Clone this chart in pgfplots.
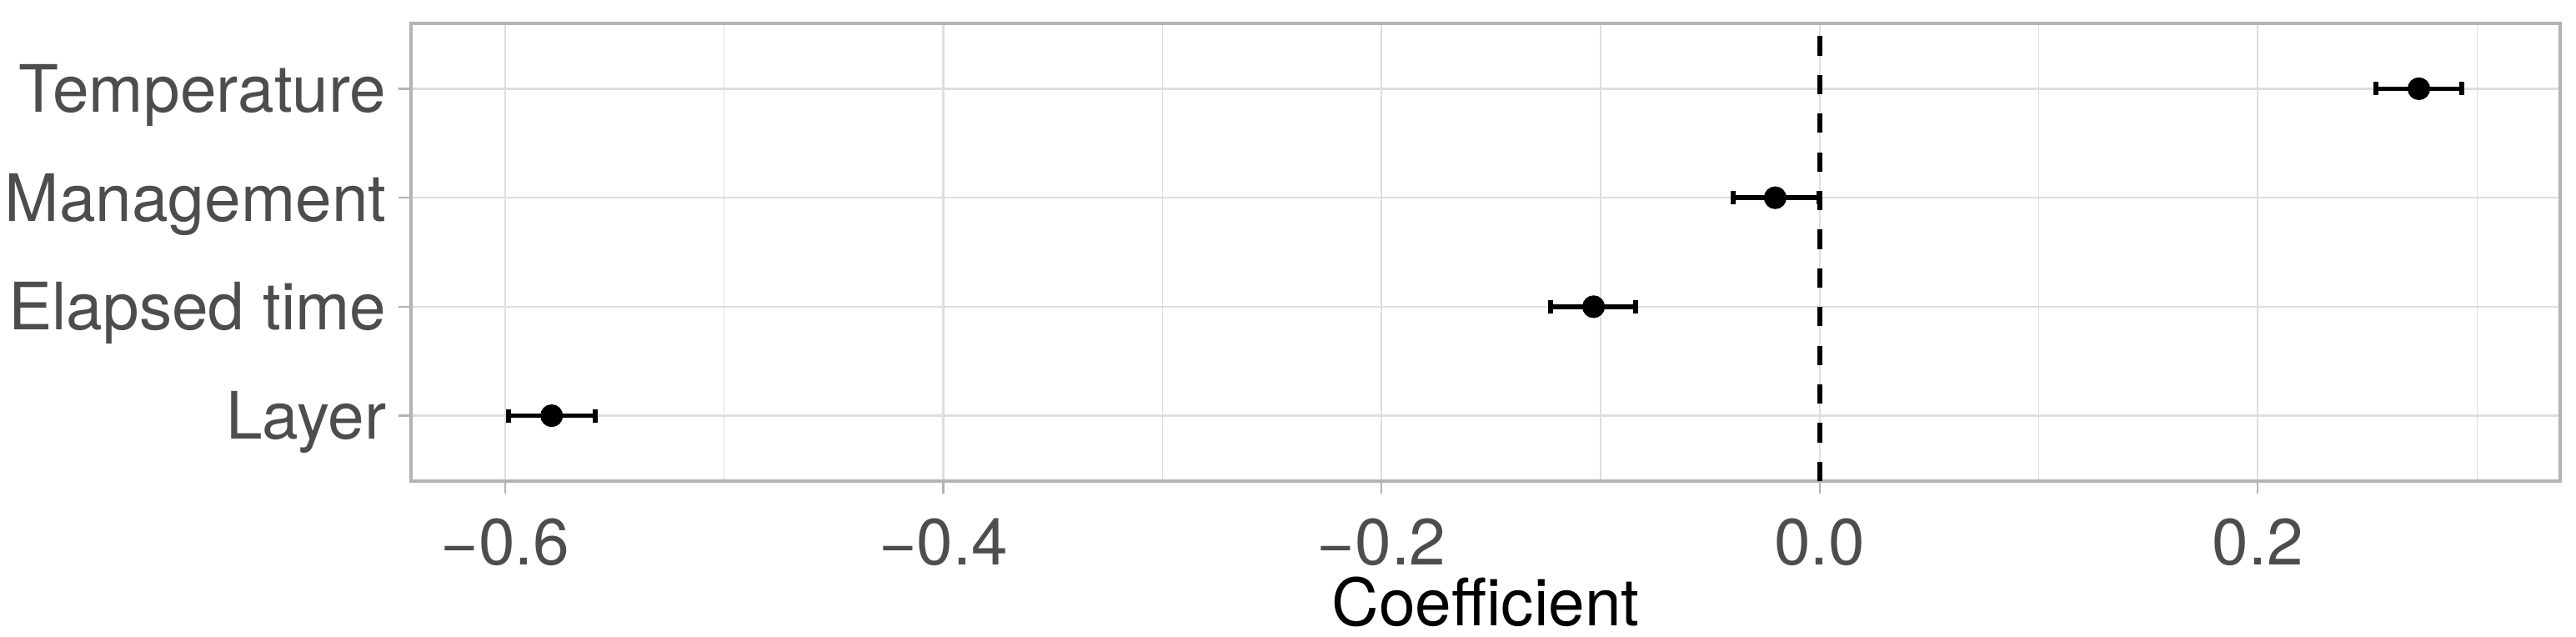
\documentclass[border=0pt]{standalone}
\usepackage{fontspec}
\setmainfont{TeX Gyre Heros}
\usepackage{pgfplots}
\pgfplotsset{compat=1.18}
\definecolor{gridgray}{HTML}{DEDEDE}
\definecolor{bordergray}{HTML}{B3B3B3}
\definecolor{textgray}{HTML}{4D4D4D}
\begin{document}
\begin{tikzpicture}
\begin{axis}[
  at={(0,0)}, anchor=south west,
  scale only axis, width=644.5pt, height=137.25pt,
  xmin=-0.643, xmax=0.338, ymin=0.4, ymax=4.6,
  xtick={-0.6,-0.4,-0.2,0,0.2},
  xticklabels={−0.6,−0.4,−0.2,0.0,0.2},
  minor xtick={-0.5,-0.3,-0.1,0.1,0.3},
  ytick={1,2,3,4},
  yticklabels={Layer,Elapsed time,Management,Temperature},
  grid=both,
  major grid style={gridgray, line width=0.55pt},
  minor grid style={gridgray, line width=0.3pt},
  axis line style={bordergray, line width=1pt},
  tick align=outside,
  major tick length=3.7pt,
  minor tick length=0pt,
  tick style={bordergray, line width=0.55pt},
  xtick pos=lower, ytick pos=left,
  ticklabel style={font=\fontsize{19.6}{22}\selectfont, text=textgray, inner sep=0pt},
  xticklabel style={anchor=base, yshift=-21.5pt},
  yticklabel style={anchor=base east, xshift=-3.5pt, yshift=-7pt},
  xlabel={Coefficient},
  xlabel style={font=\fontsize{19.6}{22}\selectfont, text=black, inner sep=0pt,
    at={(axis description cs:0.5,0)}, anchor=base, yshift=-43.25pt},
  clip=true,
]
% reference line at zero
\addplot [black, line width=1.4pt, dash pattern=on 5.8pt off 5.8pt, forget plot]
  coordinates {(0,0.4) (0,4.6)};
% coefficients with intervals
\addplot [only marks, mark=*, mark size=3.2pt, black,
  error bars/.cd, x dir=both, x explicit,
  error bar style={line width=1.4pt, black},
  error mark=|,
  error mark options={line width=1.4pt, mark size=2pt, black}]
  coordinates {
    (0.2735,4)  -= (0.0195,0) += (0.0195,0)
    (-0.0203,3) -= (0.0192,0) += (0.0198,0)
    (-0.1032,2) -= (0.0196,0) += (0.0192,0)
    (-0.5788,1) -= (0.0197,0) += (0.0198,0)
  };
\end{axis}
\pgfresetboundingbox
\useasboundingbox (-123.25pt,-46.5pt) rectangle (649.25pt,144.25pt);
\end{tikzpicture}
\end{document}
